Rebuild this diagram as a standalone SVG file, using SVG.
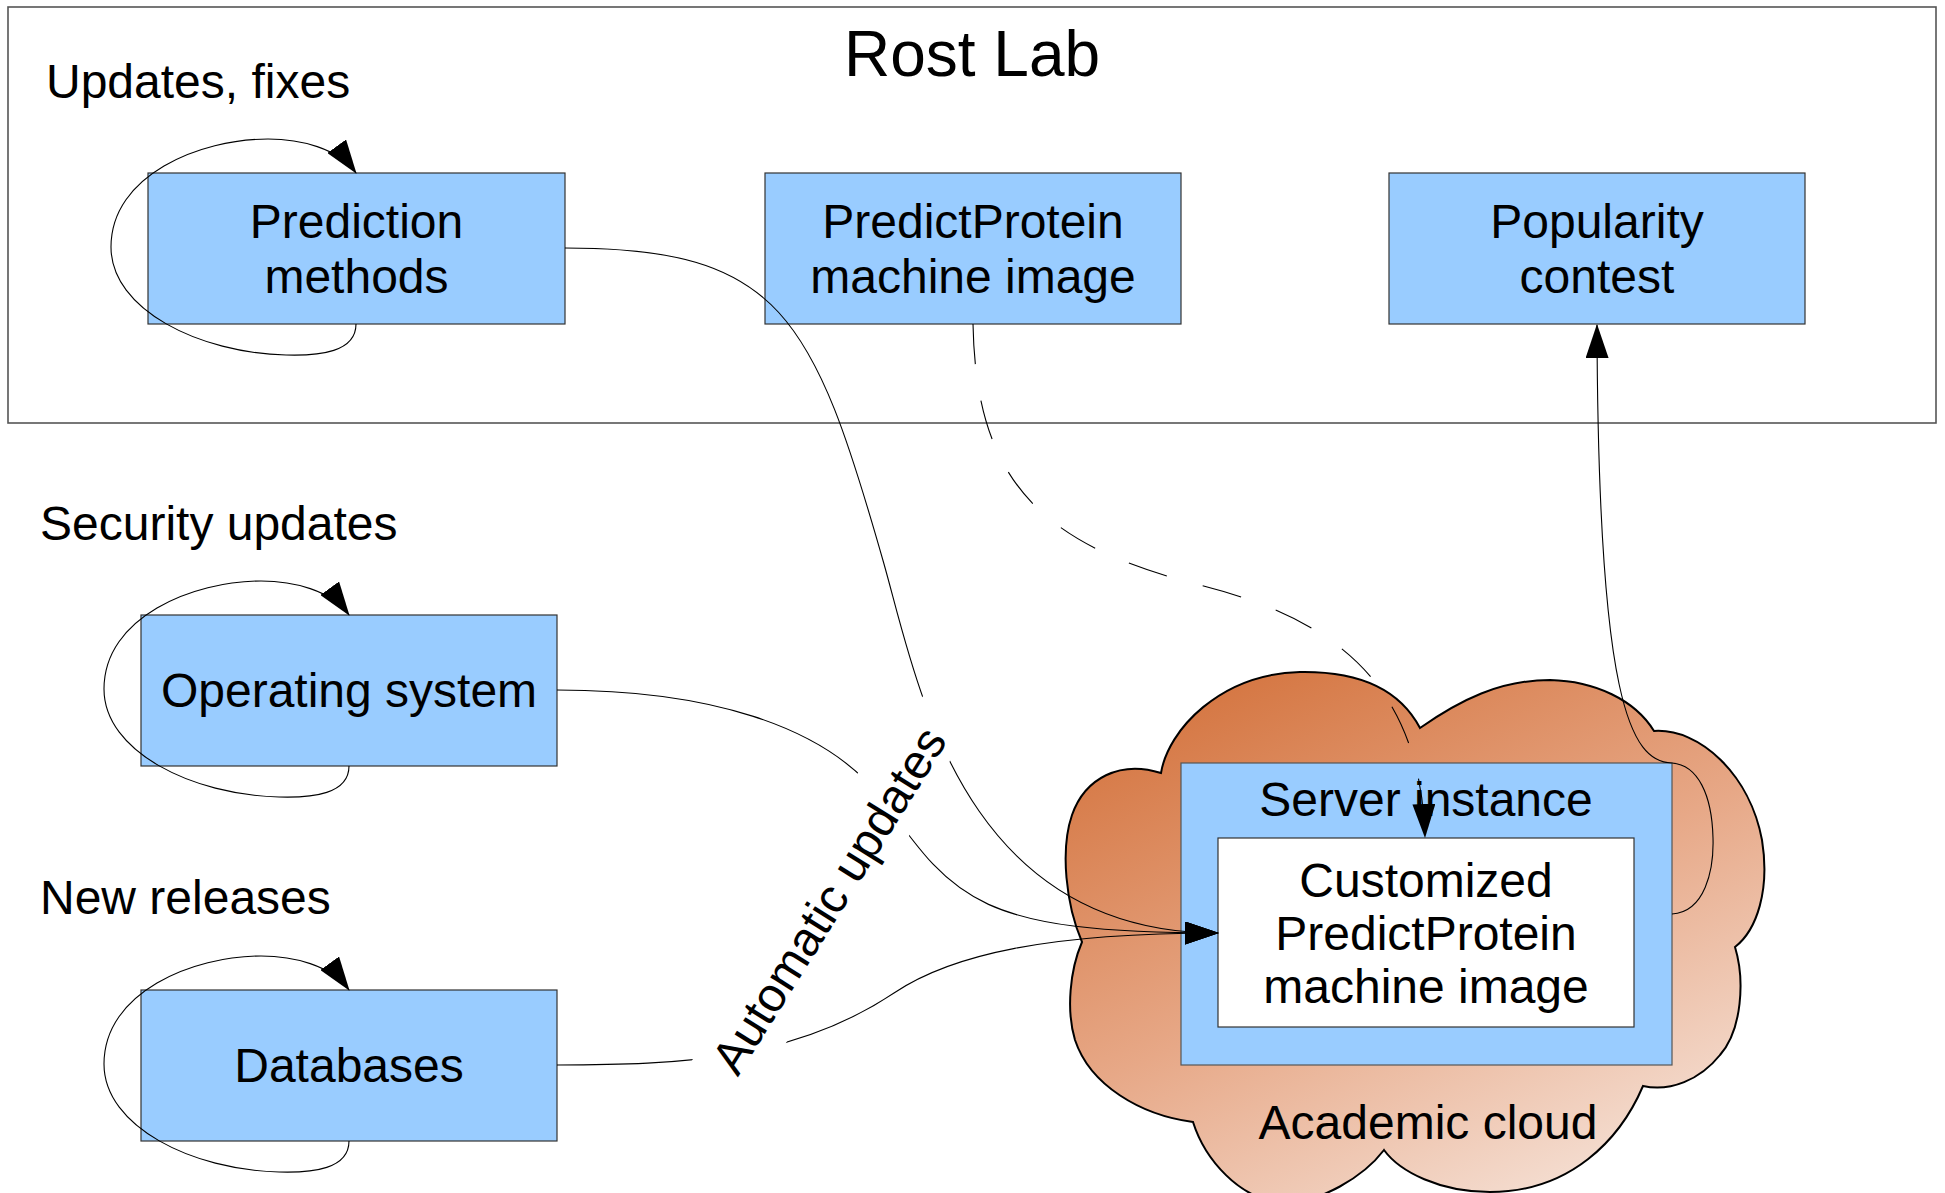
<svg xmlns="http://www.w3.org/2000/svg" width="1945" height="1193" viewBox="0 0 1945 1193">
<style>
  text { font-family: "Liberation Sans", Arial, sans-serif; fill: #000; }
  .lbl { font-size: 48px; }
  .node rect.box { fill: #99ccff; stroke: #333; stroke-width: 1.2; }
  .ntext { font-size: 48px; text-anchor: middle; }
  .conn path { fill: none; stroke: #000; stroke-width: 1.1; }
  .conn path.dash { stroke-dasharray: 40 37; }
  .conn path.arr { marker-end: url(#arrow); }
</style>
<defs>
  <marker id="arrow" markerUnits="userSpaceOnUse" markerWidth="34" markerHeight="23" viewBox="0 0 34 23" refX="33" refY="11.5" orient="auto">
    <path d="M0,0 L34,11.5 L0,23 Z" fill="#000"/>
  </marker>
  <linearGradient id="cloudGrad" x1="0.2" y1="0" x2="0.8" y2="1">
    <stop offset="0" stop-color="#d4743f"/>
    <stop offset="0.5" stop-color="#e7a887"/>
    <stop offset="1" stop-color="#f6e4da"/>
  </linearGradient>
</defs>
<rect width="1945" height="1193" fill="#fff"/>

<g id="rostlab">
  <rect x="8" y="7" width="1928" height="416" fill="none" stroke="#555" stroke-width="1.6"/>
  <text x="972" y="76" style="font-size:64px" text-anchor="middle">Rost Lab</text>
  <text class="lbl" x="46" y="98">Updates, fixes</text>
</g>
<text class="lbl" x="40" y="540">Security updates</text>
<text class="lbl" x="40" y="914">New releases</text>

<g id="academic-cloud">
  <path d="M1161,773 C1168,730 1220,674 1300,672 C1360,671 1400,690 1420,728 C1460,700 1500,680 1550,680 C1595,681 1635,700 1654,731 C1700,728 1750,775 1762,840 C1770,890 1757,930 1735,947 C1745,980 1742,1030 1720,1055 C1700,1080 1670,1092 1643,1086 C1620,1140 1570,1192 1490,1192 C1440,1192 1400,1172 1384,1150 C1365,1175 1320,1205 1280,1202 C1240,1199 1205,1160 1193,1122 C1140,1115 1090,1085 1075,1040 C1066,1010 1070,970 1082,942 C1066,905 1060,850 1072,815 C1085,778 1120,760 1161,773 Z" fill="url(#cloudGrad)" stroke="#000" stroke-width="2"/>
  <text class="ntext" x="1428" y="1139">Academic cloud</text>
</g>

<g id="server-instance" class="node">
  <rect class="box" x="1181" y="763" width="491" height="302" style="stroke:#555"/>
  <text class="ntext" x="1426" y="816">Server instance</text>
</g>

<g id="customized-image" class="node">
  <rect x="1218" y="838" width="416" height="189" fill="#fff" stroke="#333" stroke-width="1.2"/>
  <text class="ntext" x="1426" y="897">Customized</text>
  <text class="ntext" x="1426" y="950">PredictProtein</text>
  <text class="ntext" x="1426" y="1003">machine image</text>
</g>

<g id="prediction-methods" class="node">
  <rect class="box" x="148" y="173" width="417" height="151"/>
  <text class="ntext" x="356.5" y="238">Prediction</text>
  <text class="ntext" x="356.5" y="293">methods</text>
</g>

<g id="pp-machine-image" class="node">
  <rect class="box" x="765" y="173" width="416" height="151"/>
  <text class="ntext" x="973" y="238">PredictProtein</text>
  <text class="ntext" x="973" y="293">machine image</text>
</g>

<g id="popularity-contest" class="node">
  <rect class="box" x="1389" y="173" width="416" height="151"/>
  <text class="ntext" x="1597" y="238">Popularity</text>
  <text class="ntext" x="1597" y="293">contest</text>
</g>

<g id="operating-system" class="node">
  <rect class="box" x="141" y="615" width="416" height="151"/>
  <text class="ntext" x="349" y="707">Operating system</text>
</g>

<g id="databases" class="node">
  <rect class="box" x="141" y="990" width="416" height="151"/>
  <text class="ntext" x="349" y="1082">Databases</text>
</g>

<g id="connectors" class="conn">
  <!-- self loops -->
  <path class="arr" d="M356,324 C356,352 320,356 286,355 C200,353 111,310 111,247 C111,175 200,139 268,139 C300,139 338,148 356,173"/>
  <path class="arr" d="M349,766 C349,794 313,798 279,797 C193,795 104,752 104,689 C104,617 193,581 261,581 C293,581 331,590 349,615"/>
  <path class="arr" d="M349,1141 C349,1169 313,1173 279,1172 C193,1170 104,1127 104,1064 C104,992 193,956 261,956 C293,956 331,965 349,990"/>
  <!-- automatic updates -->
  <path class="arr" d="M565,248 C780,248 813,314 884,564 C916.8,679.4 960,933 1218,933"/>
  <path class="arr" d="M557,690 C700,690 826,722 885,803 C955,900 980,933 1218,933"/>
  <path class="arr" d="M557,1065 C680,1065 794,1060 894,993 C952,954 1050,933 1218,933"/>
  <!-- deployment (dashed) -->
  <path class="arr dash" d="M973,324 C976,480 1040,545 1200,585 C1330,618 1420,680 1425,837"/>
  <!-- popularity feedback -->
  <path class="arr" d="M1672,914 C1705,912 1714,870 1713,838 C1712,795 1698,765 1672,763 C1630,762 1598,700 1597,325"/>
</g>

<g id="automatic-updates-label">
  <polygon points="675,1090 859,771 930,688 958,746 946,768 910,834 783,1048 768,1074" fill="#fff"/>
  <text class="ntext" x="843" y="909" transform="rotate(-58 843 909)">Automatic updates</text>
</g>
</svg>
